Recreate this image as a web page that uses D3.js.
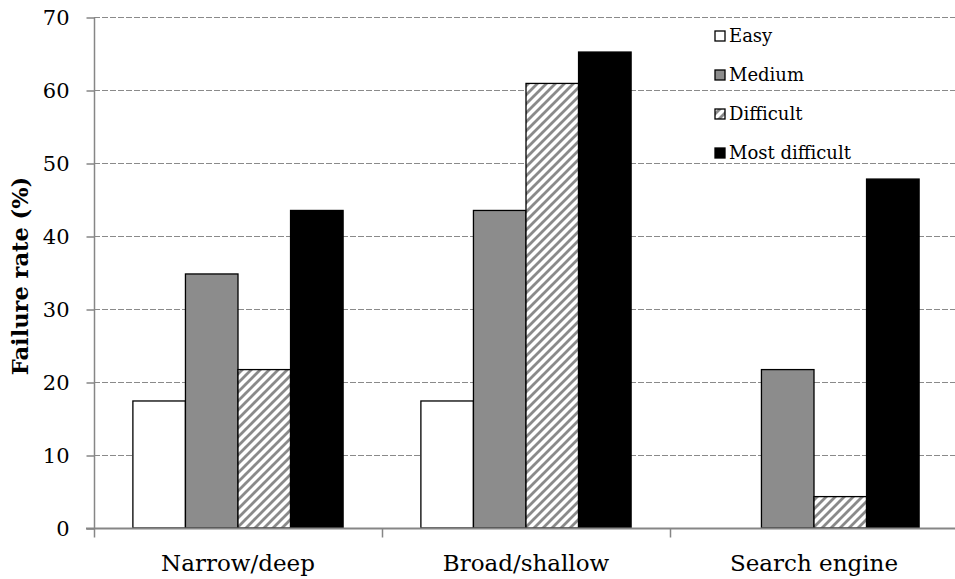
<!DOCTYPE html>
<html><head><meta charset="utf-8">
<script src="https://cdn.jsdelivr.net/npm/d3@7"></script>
<style>body{margin:0;background:#fff}</style>
</head><body>
<svg id="chart" width="955" height="579"></svg>
<script>
const categories = ["Narrow/deep", "Broad/shallow", "Search engine"];
const seriesNames = ["Easy", "Medium", "Difficult", "Most difficult"];
const easy = [17.4, 17.4, 0];
const medium = [34.8, 43.5, 21.7];
const difficult = [21.7, 60.9, 4.3];
const mostDifficult = [43.5, 65.2, 47.8];
const yTicks = [0, 10, 20, 30, 40, 50, 60, 70];
const yTitle = "Failure rate (%)";

const series = [easy, medium, difficult, mostDifficult];
const fills = ["#ffffff", "#8c8c8c", "url(#hatch)", "#000000"];

const svg = d3.select("#chart");
const defs = svg.append("defs");
const pat = defs.append("pattern").attr("id", "hatch").attr("patternUnits", "userSpaceOnUse")
  .attr("width", 9).attr("height", 9);
pat.append("rect").attr("width", 9).attr("height", 9).attr("fill", "#fff");
pat.append("path").attr("d", "M-2,2 L2,-2 M0,9 L9,0 M7,11 L11,7")
  .attr("stroke", "#8a8a8a").attr("stroke-width", 2.8);

const mLeft = 94, mTop = 17, plotW = 864, mBottom = 528;
const x = d3.scaleBand().domain(categories).range([mLeft, mLeft + plotW]).paddingInner(0).paddingOuter(0);
const y = d3.scaleLinear().domain([0, 70]).range([mBottom, mTop]);
const xi = d3.scaleBand().domain(seriesNames).range([0, x.bandwidth()]).paddingInner(0).paddingOuter(0.74);

// gridlines
svg.append("g").selectAll("line").data(yTicks.filter(d => d > 0)).join("line")
  .attr("x1", mLeft).attr("x2", 955).attr("y1", d => y(d) + 0.5).attr("y2", d => y(d) + 0.5)
  .attr("stroke", "#8a8a8a").attr("stroke-width", 1).attr("stroke-dasharray", "6,2");

// bars
categories.forEach((c, ci) => {
  series.forEach((s, si) => {
    const v = s[ci];
    if (v <= 0) return;
    svg.append("rect")
      .attr("x", x(c) + xi(seriesNames[si]))
      .attr("y", y(v))
      .attr("width", xi.bandwidth())
      .attr("height", y(0) - y(v))
      .attr("fill", fills[si])
      .attr("stroke", "#000").attr("stroke-width", 1.3);
  });
});

// y axis
const yAxis = d3.axisLeft(y).tickValues(yTicks).tickSize(8).tickPadding(17);
const gy = svg.append("g").attr("transform", `translate(${mLeft + 0.5},0.5)`).call(yAxis);
gy.select(".domain").attr("stroke", "#868686").attr("stroke-width", 1.5).attr("d", `M0,${mTop}V${mBottom}`);
gy.selectAll(".tick line").attr("stroke", "#868686").attr("stroke-width", 1.5);
gy.selectAll(".tick text").attr("font-family", "DejaVu Serif").attr("font-size", 21).attr("fill", "#000");

// x axis
const gx = svg.append("g").attr("transform", `translate(0,${mBottom + 0.5})`);
gx.append("line").attr("x1", mLeft - 8).attr("x2", 955).attr("y1", 0).attr("y2", 0)
  .attr("stroke", "#868686").attr("stroke-width", 2);
gx.selectAll(".bt").data(categories).join("line").attr("class", "bt")
  .attr("x1", d => x(d) + 0.5).attr("x2", d => x(d) + 0.5).attr("y1", 0).attr("y2", 9)
  .attr("stroke", "#868686").attr("stroke-width", 1.5);
gx.selectAll("text").data(categories).join("text")
  .attr("x", d => x(d) + x.bandwidth() / 2).attr("y", 42)
  .attr("text-anchor", "middle").attr("font-family", "DejaVu Serif").attr("font-size", 23)
  .text(d => d);

// y title
svg.append("text").attr("transform", `translate(28,276) rotate(-90)`)
  .attr("text-anchor", "middle").attr("font-family", "DejaVu Serif").attr("font-weight", "bold")
  .attr("font-size", 22.5).text(yTitle);

// legend
const lg = svg.append("g").attr("transform", "translate(715,36)");
seriesNames.forEach((n, i) => {
  const g = lg.append("g").attr("transform", `translate(0,${i * 39})`);
  g.append("rect").attr("x", 0).attr("y", -5).attr("width", 10).attr("height", 10)
    .attr("fill", fills[i]).attr("stroke", "#000").attr("stroke-width", 1.3);
  g.append("text").attr("x", 14).attr("y", 6).attr("font-family", "DejaVu Serif")
    .attr("font-size", 18).text(n);
});
</script>
</body></html>
